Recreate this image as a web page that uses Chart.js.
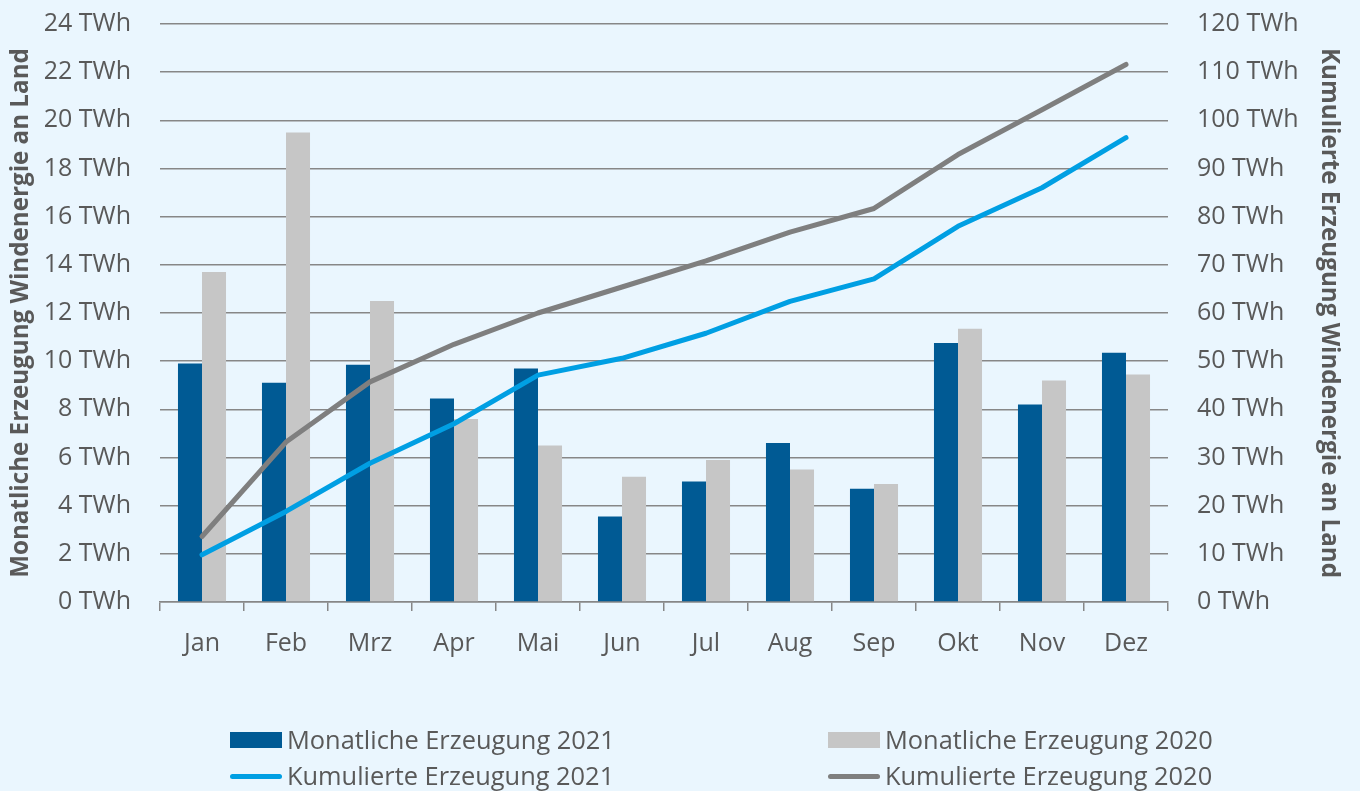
<!DOCTYPE html>
<html>
<head>
<meta charset="utf-8">
<script src="https://cdn.jsdelivr.net/npm/chart.js@4.4.0/dist/chart.umd.min.js"></script>
<style>
  html, body { margin: 0; padding: 0; background: #EAF6FE; }
  #wrap { position: relative; width: 1360px; height: 791px; overflow: hidden; }
  #chart { position: absolute; left: 0; top: 0; }
  .leg { position: absolute; font-family: 'Open Sans', sans-serif; font-size: 25.4px; color: #595959;
         white-space: nowrap; line-height: 30px; }
  .sw { position: absolute; }
</style>
</head>
<body>
<div id="wrap">
  <canvas id="chart" width="1360" height="791"></canvas>
  <div id="legend"></div>
</div>
<script>
// monthly values in TWh
const months = ["Jan", "Feb", "Mrz", "Apr", "Mai", "Jun", "Jul", "Aug", "Sep", "Okt", "Nov", "Dez"];
const monthly2021 = [9.9, 9.1, 9.85, 8.45, 9.7, 3.55, 5.0, 6.6, 4.7, 10.75, 8.2, 10.35];
const monthly2020 = [13.7, 19.5, 12.5, 7.6, 6.5, 5.2, 5.9, 5.5, 4.9, 11.35, 9.2, 9.45];
// cumulative values in TWh (right axis)
const cumulated2021 = [9.8, 18.8, 28.8, 37.0, 47.1, 50.6, 55.8, 62.4, 67.1, 78.0, 86.0, 96.4];
const cumulated2020 = [13.6, 33.2, 45.7, 53.5, 60.0, 65.4, 70.8, 76.8, 81.7, 92.9, 102.2, 111.6];

const leftTicks = { max: 24, step: 2 };
const rightTicks = { max: 120, step: 10 };

const textColor = "#595959";
const gridColor = "#878787";

Chart.defaults.font.family = "'Open Sans', sans-serif";
Chart.defaults.color = textColor;

const datasets = [
  {
    type: "line", label: "Kumulierte Erzeugung 2021", data: cumulated2021, yAxisID: "y2",
    borderColor: "#009FE3", backgroundColor: "#009FE3", borderWidth: 5,
    pointRadius: 0, borderCapStyle: "round", borderJoinStyle: "round", tension: 0, order: 0
  },
  {
    type: "line", label: "Kumulierte Erzeugung 2020", data: cumulated2020, yAxisID: "y2",
    borderColor: "#7F7F7F", backgroundColor: "#7F7F7F", borderWidth: 5,
    pointRadius: 0, borderCapStyle: "round", borderJoinStyle: "round", tension: 0, order: 0
  },
  {
    type: "bar", label: "Monatliche Erzeugung 2021", data: monthly2021, yAxisID: "y",
    backgroundColor: "#005A94", categoryPercentage: 0.572, barPercentage: 1, order: 1
  },
  {
    type: "bar", label: "Monatliche Erzeugung 2020", data: monthly2020, yAxisID: "y",
    backgroundColor: "#C6C6C6", categoryPercentage: 0.572, barPercentage: 1, order: 1
  }
];

// fixed width for the vertical axes, and no extra top/bottom padding from their labels
function fixVertical(width) {
  return s => { s.width = width; s.paddingTop = 0; s.paddingBottom = 0; };
}

const chart = new Chart(document.getElementById("chart"), {
  data: { labels: months, datasets: datasets },
  options: {
    responsive: false,
    animation: false,
    layout: { padding: { top: 24, left: 0, right: 0, bottom: 129 } },
    plugins: { legend: { display: false }, tooltip: { enabled: false } },
    scales: {
      x: {
        offset: true,
        grid: { drawOnChartArea: false, drawTicks: true, tickLength: 9, color: gridColor, lineWidth: 1.5 },
        border: { display: true, color: gridColor, width: 1.5 },
        ticks: { font: { size: 25 }, color: textColor, padding: 18 },
        afterFit: s => { s.height = 60; }
      },
      y: {
        position: "left", min: 0, max: leftTicks.max,
        ticks: { stepSize: leftTicks.step, font: { size: 25 }, color: textColor, padding: 29,
                 callback: v => v + " TWh" },
        grid: { color: gridColor, lineWidth: 1.5, drawTicks: false },
        border: { display: false },
        title: { display: true, text: "Monatliche Erzeugung Windenergie an Land",
                 font: { size: 24.2, weight: "bold" }, color: textColor, padding: { top: 7, bottom: 0 } },
        afterFit: fixVertical(160)
      },
      y2: {
        position: "right", min: 0, max: rightTicks.max,
        ticks: { stepSize: rightTicks.step, font: { size: 25 }, color: textColor, padding: 29,
                 callback: v => v + " TWh" },
        grid: { drawOnChartArea: false, drawTicks: false },
        border: { display: false },
        title: { display: true, text: "Kumulierte Erzeugung Windenergie an Land",
                 font: { size: 24.2, weight: "bold" }, color: textColor, padding: { top: 17, bottom: 0 } },
        afterFit: fixVertical(192)
      }
    }
  }
});

// legend in two columns below the chart
const legendSlots = [
  { label: "Monatliche Erzeugung 2021", x: 230, y: 740 },
  { label: "Monatliche Erzeugung 2020", x: 828, y: 740 },
  { label: "Kumulierte Erzeugung 2021", x: 230, y: 776 },
  { label: "Kumulierte Erzeugung 2020", x: 828, y: 776 }
];
const legendEl = document.getElementById("legend");
legendSlots.forEach(slot => {
  const ds = chart.data.datasets.find(d => d.label === slot.label);
  const sw = document.createElement("div");
  sw.className = "sw";
  if (ds.type === "bar") {
    sw.style.cssText = `left:${slot.x}px;top:${slot.y - 8}px;width:52px;height:16px;background:${ds.backgroundColor}`;
  } else {
    sw.style.cssText = `left:${slot.x}px;top:${slot.y - 2.5}px;width:52px;height:5px;border-radius:3px;background:${ds.borderColor}`;
  }
  legendEl.appendChild(sw);
  const tx = document.createElement("div");
  tx.className = "leg";
  tx.style.left = (slot.x + 57) + "px";
  tx.style.top = (slot.y - 16) + "px";
  tx.textContent = ds.label;
  legendEl.appendChild(tx);
});
</script>
</body>
</html>
